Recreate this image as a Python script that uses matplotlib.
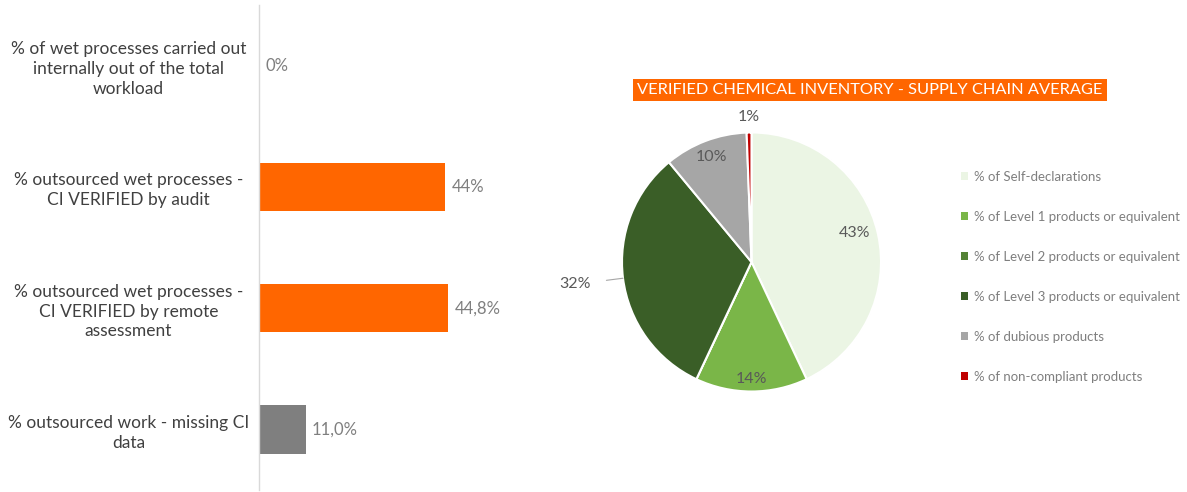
import matplotlib
matplotlib.use("Agg")
import matplotlib.pyplot as plt
import numpy as np
from matplotlib.patches import Patch

# ---------------- data ----------------
bar_categories = [
    "% of wet processes carried out\ninternally out of the total\nworkload",
    "% outsourced wet processes -\nCI VERIFIED by audit",
    "% outsourced wet processes -\nCI VERIFIED by remote\nassessment",
    "% outsourced work - missing CI\ndata",
]
bar_values = [0.0, 44.0, 44.8, 11.0]
bar_labels = ["0%", "44%", "44,8%", "11,0%"]
bar_colors = ["#FF6600", "#FF6600", "#FF6600", "#7F7F7F"]

pie_title = "VERIFIED CHEMICAL INVENTORY - SUPPLY CHAIN AVERAGE"
pie_categories = [
    "% of Self-declarations",
    "% of Level 1 products or equivalent",
    "% of Level 2 products or equivalent",
    "% of Level 3 products or equivalent",
    "% of dubious products",
    "% of non-compliant products",
]
pie_values = [43.0, 14.0, 0.0, 32.0, 10.4, 0.6]
pie_labels = ["43%", "14%", "", "32%", "10%", "1%"]
pie_colors = ["#EBF5E4", "#7AB648", "#548235", "#3A5E27", "#A6A6A6", "#C00000"]

FONT = "Lato"
plt.rcParams["font.family"] = [FONT, "DejaVu Sans"]

W, H = 1187, 492
fig = plt.figure(figsize=(W / 100, H / 100), dpi=100)

# ---------------- bar chart ----------------
x0 = 259
px_per_unit = (445 - 259) / 44.0
xmax = 70
axb = fig.add_axes([x0 / W, 2 / H, xmax * px_per_unit / W, 485 / H])
y = np.arange(len(bar_values))
axb.barh(y, bar_values, height=0.4, color=bar_colors)
axb.set_ylim(len(bar_values) - 0.5, -0.5)
axb.set_xlim(0, xmax)
for s in ["top", "right", "bottom"]:
    axb.spines[s].set_visible(False)
axb.spines["left"].set_color("#D9D9D9")
axb.spines["left"].set_linewidth(1.0)
axb.set_xticks([])
axb.set_yticks(y)
axb.set_yticklabels(bar_categories, fontsize=12.5, color="#404040",
                    ha="center", linespacing=1.3)
axb.tick_params(axis="y", length=0, pad=94)
for yi, v, lab in zip(y, bar_values, bar_labels):
    axb.text(v + 1.5, yi, lab, va="center", ha="left", fontsize=12,
             color="#7F7F7F")

# ---------------- pie chart ----------------
cx, cy, R = 751.5, 262.0, 129.5
lim = 1.3
side = 2 * lim * R
axp = fig.add_axes([(cx - side / 2) / W, (H - cy - side / 2) / H, side / W, side / H])
wedges, _ = axp.pie(pie_values, colors=pie_colors, startangle=90, counterclock=False,
                    radius=1.0, wedgeprops=dict(edgecolor="white", linewidth=1.5))
axp.set_xlim(-lim, lim)
axp.set_ylim(-lim, lim)
axp.set_aspect("equal")
axp.axis("off")

label_r = [0.83, 0.90, 0.0, 1.37, 0.87, 1.12]
label_dang = [3.0, 0.0, 0.0, 0.0, 0.0, 0.0]
for w, lab, r, da in zip(wedges, pie_labels, label_r, label_dang):
    if not lab:
        continue
    ang = np.deg2rad((w.theta1 + w.theta2) / 2 + da)
    tx, ty = r * np.cos(ang), r * np.sin(ang)
    if r > 1.3:
        axp.annotate(lab, xy=(np.cos(ang), np.sin(ang)), xytext=(tx, ty),
                     ha="center", va="center", fontsize=11.5, color="#595959",
                     annotation_clip=False,
                     arrowprops=dict(arrowstyle="-", color="#A6A6A6", lw=0.8,
                                     shrinkA=9, shrinkB=0))
    else:
        axp.text(tx, ty, lab, ha="center", va="center", fontsize=11.5,
                 color="#595959")

# title box
fig.text(870 / W, 1 - 90 / H, pie_title, ha="center", va="center",
         fontsize=11.8, color="white",
         bbox=dict(boxstyle="square,pad=0.25", facecolor="#FF6600", edgecolor="none"))

# legend
handles = [Patch(facecolor=c, edgecolor="none") for c in pie_colors]
leg = fig.legend(handles, pie_categories, loc="upper left",
                 bbox_to_anchor=(961 / W, 1 - 171 / H), frameon=False,
                 fontsize=9.5, labelcolor="#7F7F7F", handlelength=0.55,
                 handleheight=0.55, handletextpad=0.4, labelspacing=2.12,
                 borderaxespad=0, borderpad=0)

fig.savefig("out.png", dpi=100, facecolor="white")
